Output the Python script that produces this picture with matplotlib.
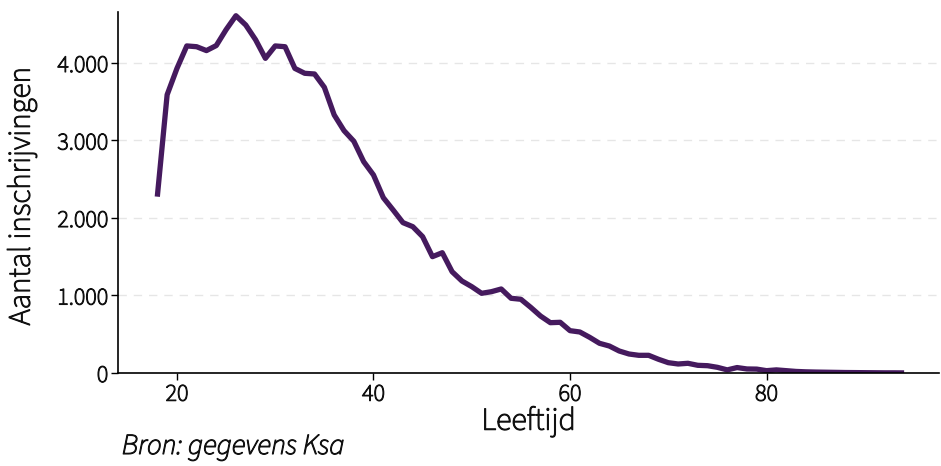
import matplotlib
matplotlib.use("Agg")
import matplotlib.pyplot as plt
import matplotlib.patheffects as pe
from matplotlib.ticker import FuncFormatter

plt.rcParams['font.family'] = ['Source Sans 3', 'DejaVu Sans']

# leeftijd en aantal inschrijvingen
leeftijd = list(range(18, 95))
aantal = [2275, 3590, 3930, 4220, 4210, 4160, 4225, 4430, 4610, 4490,
          4300, 4060, 4220, 4210, 3930, 3867, 3858, 3686, 3330, 3127,
          2990, 2727, 2555, 2262, 2103, 1940, 1888, 1759, 1501, 1552,
          1307, 1187, 1114, 1028, 1049, 1084, 964, 951, 847, 735,
          649, 654, 546, 529, 460, 383, 348, 284, 245, 228,
          228, 177, 133, 116, 125, 99, 94, 73, 40, 70,
          52, 50, 30, 40, 30, 20, 15, 12, 10, 8,
          6, 5, 4, 3, 2, 2, 1]

line_color = "#451a5e"
text_color = "#111111"

# the installed Source Sans 3 renders thin, so thicken the glyphs a bit
bold_ish = [pe.withStroke(linewidth=0.8, foreground=text_color)]

fig = plt.figure(figsize=(9.41, 4.66), dpi=100)
ax = fig.add_axes([0.1254, 0.1996, 0.873, 0.775])

ax.plot(leeftijd, aantal, color=line_color, linewidth=3.8, solid_capstyle='butt')

ax.set_xlim(14, 97.6)
ax.set_ylim(0, 4660)
ax.set_xticks([20, 40, 60, 80])
ax.set_yticks([0, 1000, 2000, 3000, 4000])
ax.yaxis.set_major_formatter(FuncFormatter(lambda v, p: f"{int(v):,}".replace(",", ".")))

ax.grid(axis='y', color='#e6e6e6', linestyle=(0, (6, 5)), linewidth=1)
ax.set_axisbelow(True)
for s in ['top', 'right']:
    ax.spines[s].set_visible(False)
for s in ['left', 'bottom']:
    ax.spines[s].set_linewidth(1.2)

ax.tick_params(labelsize=17.5, length=5, width=1, pad=2, labelcolor=text_color)
for lbl in ax.get_xticklabels() + ax.get_yticklabels():
    lbl.set_path_effects(bold_ish)

ax.set_xlabel("Leeftijd", fontsize=23, labelpad=0, color=text_color, path_effects=bold_ish)
ax.set_ylabel("Aantal inschrijvingen", fontsize=22.5, color=text_color, path_effects=bold_ish)
ax.yaxis.set_label_coords(-0.099, 0.49)

fig.text(122 / 941, 12 / 466, "Bron: gegevens Ksa", fontsize=21, style='italic',
         va='baseline', color=text_color, path_effects=bold_ish)

fig.savefig("out.png", dpi=100)
